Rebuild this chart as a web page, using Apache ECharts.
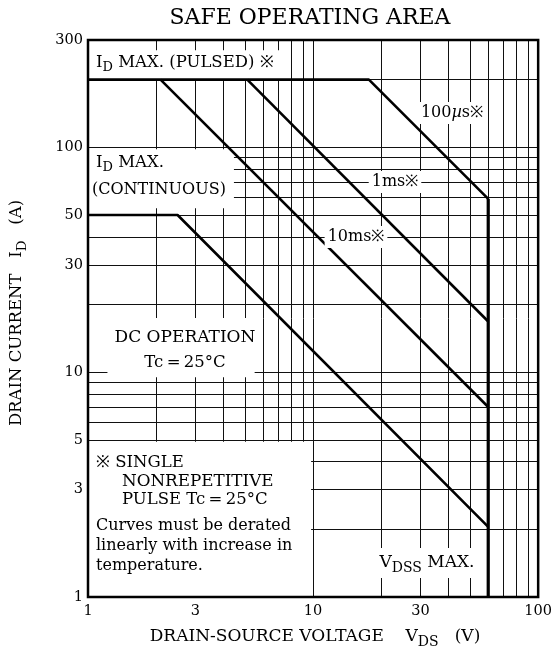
<!DOCTYPE html>
<html><head><meta charset="utf-8">
<script src="https://cdn.jsdelivr.net/npm/echarts@6/dist/echarts.min.js"></script>
<style>html,body{margin:0;padding:0;background:#fff}#c{width:555px;height:651px}</style>
</head><body><div id="c"></div>
<script>
// ---- data ----
const xTickLabels = [1, 3, 10, 30, 100];
const yTickLabels = [1, 3, 5, 10, 30, 50, 100, 300];
const xGridValues = [1, 2, 3, 4, 5, 6, 7, 8, 9, 10, 20, 30, 40, 50, 60, 70, 80, 90, 100];
const yGridValues = [1, 2, 3, 4, 5, 6, 7, 8, 9, 10, 20, 30, 40, 50, 60, 70, 80, 90, 100, 200, 300];
const limit100us = [[1, 200], [17.7, 200], [60, 59]];
const limit1ms = [[5.1, 200], [60, 16.8]];
const limit10ms = [[2.1, 200], [60, 7]];
const limitDC = [[1, 50], [2.5, 50], [60, 2.05]];
const limitVDSS = [[60, 59], [60, 1]];
// label boxes (data coordinates) that hide the grid behind the notes
const noteBoxes = [
  [[1, 270], [7.6, 200]],
  [[1, 98], [4.45, 53.5]],
  [[1.22, 17.4], [5.5, 9.5]],
  [[1, 4.9], [9.8, 1]]
];

const SERIF = '"DejaVu Serif", serif';
const chart = echarts.init(document.getElementById('c'), null, {renderer: 'canvas'});

function curve(data, width) {
  return {
    type: 'line', data: data, showSymbol: false, symbol: 'none', z: 3,
    lineStyle: {color: '#000', width: width || 2.6}, animation: false, silent: true
  };
}
function txt(x, y, text, size, extra) {
  return {
    type: 'text', x: x, y: y, z: 20, silent: true,
    style: Object.assign({
      text: text, fontFamily: SERIF, fontSize: size, fill: '#000',
      align: 'left', verticalAlign: 'middle'
    }, extra || {})
  };
}
const subRich = function (size, sub, drop) {
  return {
    n: {fontFamily: SERIF, fontSize: size, fill: '#000'},
    s: {fontFamily: SERIF, fontSize: sub, fill: '#000', padding: [drop, 0, 0, 0]},
    mu: {fontFamily: SERIF, fontSize: size, fontStyle: 'italic', fill: '#000'}
  };
};
const labelBg = {backgroundColor: '#fff', padding: [3, 3, 3, 3]};

const axisCommon = {
  type: 'log', logBase: 10,
  axisLine: {show: false},
  axisTick: {show: false},
  splitLine: {show: true, lineStyle: {color: '#111', width: 1}},
  minorSplitLine: {show: false}
};

chart.setOption({
  animation: false,
  backgroundColor: '#fff',
  grid: {left: 88, right: 14, top: 40, bottom: 54, show: true, z: 10,
         borderColor: '#000', borderWidth: 2.5, backgroundColor: 'rgba(0,0,0,0)'},
  xAxis: Object.assign({}, axisCommon, {
    min: 1, max: 100,
    axisTick: {show: false, customValues: xGridValues},
    axisLabel: {customValues: xTickLabels, color: '#000', fontFamily: SERIF, fontSize: 14.5, margin: 7}
  }),
  yAxis: Object.assign({}, axisCommon, {
    min: 1, max: 300,
    axisTick: {show: false, customValues: yGridValues},
    axisLabel: {customValues: yTickLabels, color: '#000', fontFamily: SERIF, fontSize: 14.5, margin: 5}
  }),
  series: [
    {
      type: 'line', data: [], silent: true,
      markArea: {
        z: 2, silent: true,
        itemStyle: {color: '#fff', borderWidth: 0},
        label: {show: false},
        data: noteBoxes.map(b => [{xAxis: b[0][0], yAxis: b[0][1]}, {xAxis: b[1][0], yAxis: b[1][1]}])
      }
    },
    curve(limit100us),
    curve(limit1ms),
    curve(limit10ms),
    curve(limitDC),
    curve(limitVDSS, 3.2)
  ],
  graphic: [
    txt(310, 18, 'SAFE OPERATING AREA', 22, {align: 'center'}),
    txt(96, 63, '{n|I}{s|D}{n| MAX. (PULSED) ※}', 16.5, {rich: subRich(16.5, 13, 10)}),
    txt(96, 163, '{n|I}{s|D}{n| MAX.}', 16.5, {rich: subRich(16.5, 13, 10)}),
    txt(92, 190, '(CONTINUOUS)', 16),
    txt(185, 338, 'DC OPERATION', 17, {align: 'center'}),
    txt(185, 363, 'Tc\u2009=\u200925°C', 16.5, {align: 'center'}),
    txt(96, 463, '※ SINGLE', 16.5),
    txt(122, 482, 'NONREPETITIVE', 16.8),
    txt(122, 500, 'PULSE Tc\u2009=\u200925°C', 16.5),
    txt(96, 526, 'Curves must be derated', 16),
    txt(96, 546, 'linearly with increase in', 16),
    txt(96, 566, 'temperature.', 16),
    txt(452, 113, '{n|100}{mu|µ}{n|s※}', 16, Object.assign({align: 'center', rich: subRich(16, 12, 9)}, labelBg)),
    txt(395, 182, '1ms※', 16, Object.assign({align: 'center'}, labelBg)),
    txt(356, 237, '10ms※', 16, Object.assign({align: 'center'}, labelBg)),
    txt(427, 563, '{n|V}{s|DSS}{n| MAX.}', 17, Object.assign({align: 'center', rich: subRich(17, 14, 10)}, labelBg)),
    txt(315, 637, '{n|DRAIN-SOURCE VOLTAGE    V}{s|DS}{n|   (V)}', 17, {align: 'center', rich: subRich(17, 14, 10)}),
    Object.assign(txt(17, 313, '{n|DRAIN CURRENT   I}{s|D}{n|   (A)}', 16.5, {align: 'center', rich: subRich(16.5, 13.5, 10)}),
      {rotation: Math.PI / 2})
  ]
});
</script></body></html>
